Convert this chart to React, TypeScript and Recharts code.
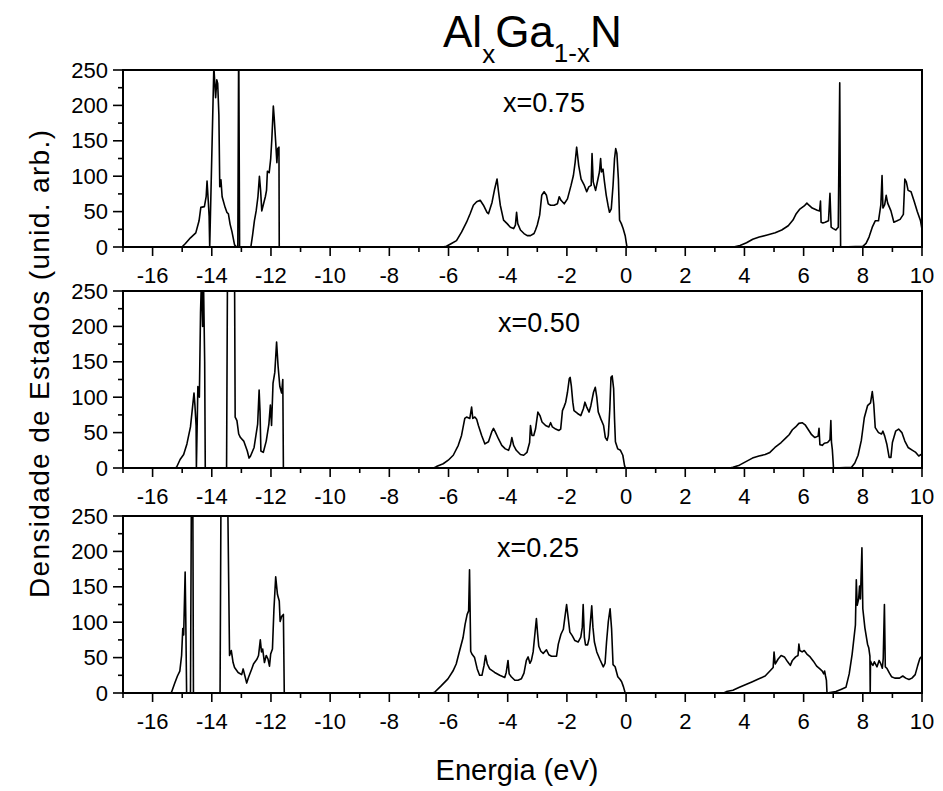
import React from 'react'
import { LineChart, Line, XAxis, YAxis, ReferenceArea } from 'recharts'

// Axis ticks (energy in eV, DOS in arbitrary units)
const energyTicks = [-17, -16, -15, -14, -13, -12, -11, -10, -9, -8, -7, -6, -5, -4, -3, -2, -1, 0, 1, 2, 3, 4, 5, 6, 7, 8, 9, 10]
const dosTicks = [0, 25, 50, 75, 100, 125, 150, 175, 200, 225, 250]
const panelLabels = ['x=0.75', 'x=0.50', 'x=0.25']

// [energia, densidade]
const dosX075: [number, number][] = [
  [-17, 0], [-15.01, 0], [-14.89, 5], [-14.72, 13], [-14.54, 20], [-14.43, 37], [-14.37, 56], [-14.25, 57], [-14.19, 71], [-14.16, 93], [-14.12, 66], [-14.09, 44], [-14.07, 0],
  [-13.93, 255], [-13.91, 240], [-13.87, 211], [-13.83, 236], [-13.8, 231], [-13.76, 187], [-13.73, 85], [-13.69, 95], [-13.65, 71], [-13.55, 56], [-13.49, 49], [-13.44, 47], [-13.38, 32], [-13.32, 22], [-13.23, 3], [-13.16, 0],
  [-13.12, 0], [-13.09, 300], [-13.06, 0],
  [-12.68, 0], [-12.62, 17], [-12.56, 37], [-12.5, 51], [-12.44, 71], [-12.39, 100], [-12.35, 80], [-12.31, 51], [-12.25, 61], [-12.19, 71], [-12.15, 80], [-12.12, 107], [-12.06, 105], [-12.01, 124], [-11.97, 153], [-11.92, 199], [-11.89, 182], [-11.84, 148], [-11.8, 119], [-11.77, 139], [-11.73, 141], [-11.72, 0],
  [-6.2, 0], [-6.07, 1], [-5.9, 5], [-5.73, 9], [-5.56, 21], [-5.39, 35], [-5.27, 47], [-5.16, 59], [-5.05, 64], [-4.93, 66], [-4.82, 59], [-4.7, 49], [-4.65, 47], [-4.53, 63], [-4.44, 82], [-4.36, 96], [-4.31, 78], [-4.25, 59], [-4.14, 38], [-4.02, 33], [-3.91, 28], [-3.8, 26], [-3.74, 31], [-3.7, 49], [-3.66, 33], [-3.57, 24], [-3.45, 19], [-3.34, 16], [-3.23, 16], [-3.11, 19], [-3.06, 24], [-3.0, 31], [-2.92, 45], [-2.85, 73], [-2.77, 78], [-2.69, 73], [-2.63, 61], [-2.55, 59], [-2.43, 59], [-2.32, 61], [-2.26, 71], [-2.2, 66], [-2.09, 61], [-1.98, 68], [-1.86, 87], [-1.78, 101], [-1.72, 120], [-1.67, 141], [-1.6, 115], [-1.52, 96], [-1.41, 87], [-1.33, 78], [-1.26, 85], [-1.18, 87], [-1.15, 132], [-1.11, 92], [-1.03, 80], [-0.95, 96], [-0.9, 106], [-0.86, 125], [-0.83, 106], [-0.78, 110], [-0.73, 92], [-0.67, 73], [-0.61, 59], [-0.56, 49], [-0.5, 54], [-0.44, 87], [-0.39, 125], [-0.35, 139], [-0.31, 132], [-0.26, 96], [-0.22, 38], [-0.16, 33], [-0.1, 26], [-0.03, 16], [0.01, 5], [0.03, 0],
  [3.63, 0], [3.85, 2], [4.07, 6], [4.28, 11], [4.5, 14], [4.77, 17], [5.04, 20], [5.26, 24], [5.48, 30], [5.64, 38], [5.75, 47], [5.86, 53], [6.02, 58], [6.11, 62], [6.18, 59], [6.29, 55], [6.46, 52], [6.54, 51], [6.57, 65], [6.59, 35], [6.65, 34], [6.73, 35], [6.84, 37], [6.89, 76], [6.93, 28], [7.0, 26], [7.09, 24], [7.13, 26], [7.17, 28], [7.22, 232], [7.25, 0],
  [8.0, 1], [8.11, 5], [8.21, 14], [8.32, 28], [8.42, 37], [8.53, 37], [8.61, 60], [8.65, 101], [8.68, 55], [8.74, 60], [8.79, 73], [8.84, 62], [8.95, 51], [9.05, 35], [9.16, 37], [9.26, 39], [9.37, 46], [9.42, 96], [9.47, 92], [9.53, 80], [9.63, 78], [9.74, 64], [9.84, 50], [9.95, 37], [10, 25],
]

const dosX050: [number, number][] = [
  [-17, 0], [-15.25, 0], [-15.19, 1], [-15.07, 12], [-14.95, 19], [-14.84, 34], [-14.72, 58], [-14.66, 82], [-14.6, 106], [-14.57, 89], [-14.53, 60], [-14.52, 0],
  [-14.47, 115], [-14.42, 100], [-14.38, 220], [-14.35, 265], [-14.31, 200], [-14.28, 265], [-14.24, 150], [-14.22, 0],
  [-13.5, 0], [-13.47, 270], [-13.23, 270], [-13.21, 72], [-13.15, 67], [-13.09, 48], [-13.03, 43], [-12.92, 38], [-12.8, 24], [-12.74, 14], [-12.69, 17], [-12.57, 29], [-12.45, 62], [-12.4, 110], [-12.37, 80], [-12.34, 24], [-12.26, 22], [-12.16, 38], [-12.07, 62], [-12.02, 89], [-11.98, 60], [-11.93, 120], [-11.87, 135], [-11.81, 178], [-11.76, 144], [-11.7, 115], [-11.64, 106], [-11.6, 125], [-11.58, 0],
  [-6.5, 0], [-6.41, 2], [-6.18, 6], [-6.01, 11], [-5.84, 18], [-5.67, 32], [-5.56, 46], [-5.45, 70], [-5.39, 72], [-5.28, 70], [-5.22, 86], [-5.18, 70], [-5.11, 72], [-5.05, 69], [-4.99, 60], [-4.88, 46], [-4.77, 34], [-4.65, 37], [-4.54, 51], [-4.48, 56], [-4.42, 51], [-4.31, 41], [-4.2, 32], [-4.08, 27], [-3.97, 25], [-3.91, 32], [-3.86, 43], [-3.8, 32], [-3.71, 25], [-3.57, 19], [-3.46, 18], [-3.35, 22], [-3.26, 36], [-3.23, 60], [-3.18, 46], [-3.12, 46], [-3.06, 55], [-2.98, 79], [-2.91, 74], [-2.84, 65], [-2.72, 60], [-2.61, 58], [-2.55, 64], [-2.49, 58], [-2.38, 55], [-2.27, 53], [-2.21, 55], [-2.15, 81], [-2.1, 86], [-2.04, 93], [-1.98, 107], [-1.92, 126], [-1.89, 128], [-1.85, 116], [-1.8, 93], [-1.76, 81], [-1.64, 77], [-1.53, 74], [-1.44, 84], [-1.39, 93], [-1.33, 86], [-1.25, 79], [-1.19, 88], [-1.1, 107], [-1.04, 114], [-0.99, 100], [-0.94, 79], [-0.85, 69], [-0.76, 60], [-0.7, 43], [-0.64, 39], [-0.6, 46], [-0.55, 83], [-0.51, 128], [-0.47, 130], [-0.42, 112], [-0.39, 69], [-0.36, 37], [-0.28, 27], [-0.19, 25], [-0.11, 18], [-0.05, 3], [-0.02, 0],
  [3.5, 0], [3.61, 1], [3.83, 4], [4.05, 9], [4.27, 14], [4.49, 17], [4.7, 19], [4.86, 22], [5.03, 29], [5.24, 36], [5.41, 43], [5.51, 47], [5.62, 54], [5.73, 58], [5.84, 63], [5.95, 64], [6.05, 61], [6.16, 54], [6.27, 47], [6.38, 43], [6.49, 45], [6.52, 56], [6.55, 33], [6.63, 32], [6.7, 35], [6.81, 36], [6.89, 40], [6.92, 67], [6.94, 37], [6.97, 26], [7.01, 0],
  [7.62, 1], [7.73, 7], [7.84, 18], [7.95, 39], [8.05, 71], [8.16, 88], [8.26, 92], [8.32, 108], [8.37, 90], [8.42, 57], [8.53, 50], [8.63, 48], [8.68, 52], [8.74, 45], [8.81, 34], [8.89, 15], [8.95, 15], [9.0, 36], [9.11, 52], [9.21, 55], [9.32, 50], [9.42, 38], [9.53, 29], [9.68, 25], [9.79, 22], [9.89, 17], [9.97, 19], [10, 19],
]

const dosX025: [number, number][] = [
  [-17, 0], [-15.4, 0], [-15.36, 1], [-15.25, 14], [-15.16, 24], [-15.08, 31], [-15.02, 53], [-14.98, 91], [-14.95, 82], [-14.9, 171], [-14.88, 110], [-14.85, 0],
  [-14.72, 0], [-14.69, 270], [-14.64, 270], [-14.62, 0],
  [-13.72, 0], [-13.69, 270], [-13.46, 270], [-13.4, 53], [-13.34, 60], [-13.28, 43], [-13.23, 36], [-13.11, 29], [-12.99, 26], [-12.94, 34], [-12.88, 24], [-12.82, 14], [-12.76, 22], [-12.65, 34], [-12.59, 41], [-12.47, 48], [-12.42, 53], [-12.36, 75], [-12.32, 58], [-12.28, 62], [-12.22, 43], [-12.16, 53], [-12.1, 48], [-12.05, 38], [-12.01, 55], [-11.95, 62], [-11.9, 118], [-11.84, 164], [-11.78, 139], [-11.72, 130], [-11.69, 101], [-11.64, 108], [-11.58, 111], [-11.55, 0],
  [-6.55, 0], [-6.47, 1], [-6.25, 10], [-6.02, 20], [-5.85, 31], [-5.74, 41], [-5.63, 59], [-5.51, 78], [-5.44, 97], [-5.37, 111], [-5.32, 116], [-5.29, 174], [-5.25, 59], [-5.21, 55], [-5.12, 50], [-5.03, 34], [-4.95, 25], [-4.87, 25], [-4.8, 39], [-4.75, 53], [-4.69, 41], [-4.61, 34], [-4.44, 29], [-4.27, 25], [-4.1, 22], [-4.05, 29], [-3.99, 46], [-3.95, 27], [-3.88, 23], [-3.76, 18], [-3.65, 18], [-3.54, 20], [-3.45, 28], [-3.37, 46], [-3.31, 51], [-3.25, 42], [-3.2, 46], [-3.14, 58], [-3.08, 84], [-3.03, 105], [-2.99, 84], [-2.95, 66], [-2.88, 59], [-2.8, 56], [-2.69, 61], [-2.61, 54], [-2.52, 52], [-2.41, 52], [-2.35, 52], [-2.29, 69], [-2.2, 83], [-2.12, 90], [-2.07, 106], [-2.01, 125], [-1.95, 104], [-1.9, 86], [-1.82, 81], [-1.73, 74], [-1.62, 72], [-1.53, 79], [-1.48, 93], [-1.45, 125], [-1.41, 79], [-1.37, 68], [-1.3, 68], [-1.25, 77], [-1.22, 93], [-1.16, 123], [-1.12, 93], [-1.07, 72], [-0.99, 58], [-0.88, 47], [-0.77, 37], [-0.71, 42], [-0.66, 72], [-0.6, 101], [-0.54, 119], [-0.49, 91], [-0.44, 40], [-0.37, 37], [-0.28, 23], [-0.2, 19], [-0.15, 16], [-0.09, 9], [-0.03, 0],
  [3.3, 0], [3.39, 2], [3.61, 4], [3.83, 8], [4.05, 12], [4.27, 16], [4.49, 20], [4.7, 24], [4.86, 31], [4.97, 36], [5.0, 58], [5.04, 41], [5.14, 48], [5.24, 53], [5.35, 51], [5.46, 44], [5.55, 39], [5.62, 46], [5.73, 51], [5.81, 53], [5.84, 69], [5.87, 60], [5.95, 58], [6.02, 60], [6.11, 55], [6.22, 51], [6.33, 45], [6.44, 38], [6.55, 34], [6.63, 31], [6.68, 27], [6.71, 31], [6.74, 24], [6.77, 18], [6.79, 0],
  [7.09, 2], [7.26, 5], [7.43, 8], [7.54, 27], [7.64, 55], [7.75, 96], [7.78, 160], [7.81, 124], [7.86, 133], [7.89, 151], [7.92, 133], [7.97, 205], [8.0, 119], [8.07, 92], [8.16, 69], [8.2, 64], [8.24, 52], [8.25, 0], [8.26, 45], [8.29, 42], [8.34, 39], [8.39, 44], [8.48, 37], [8.55, 46], [8.6, 42], [8.66, 35], [8.69, 49], [8.73, 125], [8.76, 37], [8.81, 35], [8.9, 28], [8.97, 23], [9.08, 21], [9.24, 21], [9.35, 24], [9.45, 21], [9.56, 19], [9.66, 21], [9.77, 26], [9.85, 38], [9.93, 49], [9.98, 51], [10, 52],
]

const FONT = '"Liberation Sans", Arial, Helvetica, sans-serif'
const PLOT_LEFT = 123
const PLOT_RIGHT = 922
const PLOT_H = 177
const TOP_PAD = 20
const X_AXIS_H = 40
const Y_AXIS_W = 60

function XTick({ x, y, payload }: any) {
  const v = payload.value
  const major = v % 2 === 0
  return (
    <g>
      <line x1={x} x2={x} y1={y} y2={y + (major ? 9 : 5)} stroke="#000" strokeWidth={1.6} />
      {major && (
        <text x={x} y={y + 28} textAnchor="middle" dominantBaseline="central" fontSize={22} fill="#000">
          {v}
        </text>
      )}
    </g>
  )
}

function YTick({ x, y, payload }: any) {
  const v = payload.value
  const major = v % 50 === 0
  return (
    <g>
      <line x1={x - (major ? 10 : 5)} x2={x} y1={y} y2={y} stroke="#000" strokeWidth={1.6} />
      {major && (
        <text x={x - 15} y={y} textAnchor="end" dominantBaseline="central" fontSize={22} fill="#000">
          {v}
        </text>
      )}
    </g>
  )
}

// one stacked DOS panel; top is the y of the plot frame on the page
function DosPanel({ points, top }: { points: [number, number][]; top: number }) {
  const rows = points.map(([e, d]) => ({ e, d }))
  return (
    <div style={{ position: 'absolute', left: 0, top: top - TOP_PAD }}>
      <LineChart
        width={943}
        height={TOP_PAD + PLOT_H + X_AXIS_H}
        data={rows}
        margin={{ top: TOP_PAD, right: 943 - PLOT_RIGHT, left: PLOT_LEFT - Y_AXIS_W, bottom: 0 }}
      >
        <XAxis
          dataKey="e"
          type="number"
          domain={[-17, 10]}
          ticks={energyTicks}
          interval={0}
          allowDataOverflow
          height={X_AXIS_H}
          tickLine={false}
          tickSize={0}
          tickMargin={0}
          tick={(p: any) => <XTick {...p} />}
          axisLine={{ stroke: '#000', strokeWidth: 2 }}
        />
        <YAxis
          type="number"
          domain={[0, 250]}
          ticks={dosTicks}
          interval={0}
          allowDataOverflow
          width={Y_AXIS_W}
          tickLine={false}
          tickSize={0}
          tickMargin={0}
          tick={(p: any) => <YTick {...p} />}
          axisLine={{ stroke: '#000', strokeWidth: 2 }}
        />
        <ReferenceArea x1={-17} x2={10} y1={0} y2={250} fill="none" fillOpacity={0} stroke="#000" strokeWidth={2} />
        <Line
          dataKey="d"
          type="linear"
          stroke="#000"
          strokeWidth={1.6}
          strokeLinejoin="round"
          dot={false}
          activeDot={false}
          isAnimationActive={false}
        />
      </LineChart>
    </div>
  )
}

const panelTops = [70, 291, 516]
const labelPos = [
  { x: 544, y: 112 },
  { x: 539, y: 332 },
  { x: 538, y: 557 },
]

export default function App() {
  const series = [dosX075, dosX050, dosX025]
  return (
    <div
      style={{
        position: 'absolute',
        left: 0,
        top: 0,
        width: 943,
        height: 791,
        background: '#fff',
        fontFamily: FONT,
        overflow: 'hidden',
      }}
    >
      {series.map((pts, i) => (
        <DosPanel key={i} points={pts} top={panelTops[i]} />
      ))}
      <svg width={943} height={791} style={{ position: 'absolute', left: 0, top: 0, pointerEvents: 'none' }}>
        <text x={443} y={47} fontSize={44} fill="#000" fontFamily={FONT}>
          Al
          <tspan dy={16} fontSize={26}>x</tspan>
          <tspan dy={-16} fontSize={44}>Ga</tspan>
          <tspan dy={15} fontSize={26}>1-x</tspan>
          <tspan dy={-15} fontSize={44}>N</tspan>
        </text>
        {panelLabels.map((t, i) => (
          <text key={t} x={labelPos[i].x} y={labelPos[i].y} textAnchor="middle" fontSize={27} fill="#000" fontFamily={FONT}>
            {t}
          </text>
        ))}
        <text
          transform="translate(49,364) rotate(-90)"
          textAnchor="middle"
          fontSize={28}
          textLength={468}
          lengthAdjust="spacing"
          fill="#000"
          fontFamily={FONT}
        >
          Densidade de Estados (unid. arb.)
        </text>
        <text x={517} y={780} textAnchor="middle" fontSize={29} fill="#000" fontFamily={FONT}>
          Energia (eV)
        </text>
      </svg>
    </div>
  )
}
